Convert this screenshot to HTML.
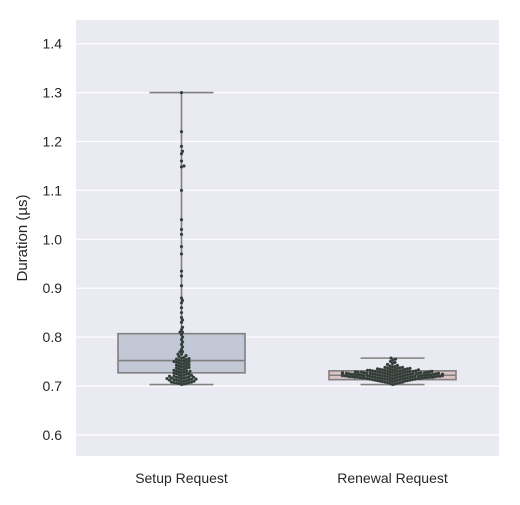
<!DOCTYPE html>
<html><head><meta charset="utf-8"><style>
body{margin:0;background:#fff;}
svg text{font-family:"Liberation Sans","DejaVu Sans",sans-serif;fill:#262626;}
</style></head><body>
<svg id="chart" width="520" height="500" xmlns="http://www.w3.org/2000/svg">
<rect x="76" y="20" width="423" height="436" fill="#eaeaf2"/>
<g id="grid"></g><g id="boxes"></g><g id="dots"></g><g id="axes"></g>
<text transform="translate(27,238) rotate(-90)" text-anchor="middle" font-size="15">Duration (µs)</text>
</svg>
<script>
const categories=["Setup Request","Renewal Request"];
const yTicks=[0.6,0.7,0.8,0.9,1.0,1.1,1.2,1.3,1.4];
const boxQ1=[0.727,0.713];
const boxMedian=[0.752,0.722];
const boxQ3=[0.807,0.731];
const whiskerLow=[0.703,0.703];
const whiskerHigh=[1.30,0.757];
const boxColors=["#c2c8d6","#dbc3c5"];
const setupValues=[1.30,1.22,1.19,1.18,1.175,1.16,1.15,1.148,1.10,1.04,1.02,1.01,0.985,0.97,0.935,0.925,0.905,0.88,0.875,0.87,0.86,0.85,0.84,0.835,0.83,0.82,0.815,0.81,0.81,0.805,0.80,0.795,0.79,0.785,0.78,0.775,0.77,0.77,0.765,
0.703,0.704,0.705,0.705,0.706,0.707,0.707,0.708,0.708,0.709,0.710,0.710,0.711,0.711,0.712,0.712,0.713,0.713,0.714,0.714,0.715,0.715,0.716,0.716,0.717,0.717,0.718,0.718,0.719,0.720,0.720,0.721,0.722,0.722,0.723,0.724,0.725,0.725,0.726,0.727,0.728,0.729,0.730,0.730,0.731,0.732,0.733,0.734,0.735,0.736,0.737,0.738,0.739,0.740,0.741,0.742,0.743,0.744,0.745,0.746,0.747,0.748,0.749,0.750,0.750,0.751,0.752,0.753,0.754,0.755,0.756,0.757,0.758,0.760,0.762,0.765];
const renewalValues=[0.757,0.755,0.753,0.750,0.748,0.746,0.744,0.742,0.741,0.740,0.739,0.738,0.738,0.737,0.737,0.736,0.736,0.735,0.735,0.735,0.734,0.734,0.734,0.733,0.733,0.733,0.732,0.732,0.732,0.732,0.731,0.731,0.731,0.731,0.730,0.730,0.730,0.730,0.730,0.729,0.729,0.729,0.729,0.729,0.728,0.728,0.728,0.728,0.728,0.728,0.727,0.727,0.727,0.727,0.727,0.727,0.726,0.726,0.726,0.726,0.726,0.726,0.726,0.725,0.725,0.725,0.725,0.725,0.725,0.725,0.724,0.724,0.724,0.724,0.724,0.724,0.724,0.724,0.723,0.723,0.723,0.723,0.723,0.723,0.723,0.723,0.722,0.722,0.722,0.722,0.722,0.722,0.722,0.722,0.722,0.721,0.721,0.721,0.721,0.721,0.721,0.721,0.721,0.720,0.720,0.720,0.720,0.720,0.720,0.720,0.720,0.719,0.719,0.719,0.719,0.719,0.719,0.719,0.718,0.718,0.718,0.718,0.718,0.718,0.718,0.717,0.717,0.717,0.717,0.717,0.717,0.716,0.716,0.716,0.716,0.716,0.716,0.715,0.715,0.715,0.715,0.715,0.714,0.714,0.714,0.714,0.713,0.713,0.713,0.713,0.712,0.712,0.712,0.711,0.711,0.711,0.710,0.710,0.710,0.709,0.709,0.708,0.708,0.707,0.707,0.706,0.705,0.704,0.703];
const seriesValues=[setupValues,renewalValues];

const NS="http://www.w3.org/2000/svg";
const yScale=v=>386-(v-0.7)*489;
const xCenter=i=>181.5+i*211;
const boxHalf=63.5;
function mk(tag,attrs,parent){const e=document.createElementNS(NS,tag);for(const k in attrs)e.setAttribute(k,attrs[k]);parent.appendChild(e);return e;}
const grid=document.getElementById('grid'),axes=document.getElementById('axes'),boxes=document.getElementById('boxes'),dots=document.getElementById('dots');
yTicks.forEach(t=>{
  const y=yScale(t);
  const l=mk('line',{x1:76,x2:499,y1:y,y2:y,stroke:'#fff','stroke-width':1.2},grid);
  
  
  const tx=mk('text',{x:62,y:y+5,'text-anchor':'end','font-size':14},axes);
  tx.textContent=t.toFixed(1);
  
  
});
categories.forEach((c,i)=>{
  const cx=xCenter(i);
  const tx=mk('text',{x:cx,y:483,'text-anchor':'middle','font-size':14},axes);
  tx.textContent=c;
  
  
  const g=mk('g',{},boxes);
  
  
  const st={stroke:'#808080','stroke-width':1.6};
  mk('line',Object.assign({x1:cx,x2:cx,y1:yScale(whiskerHigh[i]),y2:yScale(boxQ3[i])},st),g);
  mk('line',Object.assign({x1:cx,x2:cx,y1:yScale(boxQ1[i]),y2:yScale(whiskerLow[i])},st),g);
  mk('line',Object.assign({x1:cx-32,x2:cx+32,y1:yScale(whiskerHigh[i]),y2:yScale(whiskerHigh[i])},st),g);
  mk('line',Object.assign({x1:cx-32,x2:cx+32,y1:yScale(whiskerLow[i]),y2:yScale(whiskerLow[i])},st),g);
  mk('rect',Object.assign({x:cx-boxHalf,y:yScale(boxQ3[i]),width:boxHalf*2,height:yScale(boxQ1[i])-yScale(boxQ3[i]),fill:boxColors[i]},st),g);
  mk('line',Object.assign({x1:cx-boxHalf,x2:cx+boxHalf,y1:yScale(boxMedian[i]),y2:yScale(boxMedian[i])},st),g);
  const r=1.5,d=2.5,maxOff=50;
  const vals=seriesValues[i].slice().sort((a,b)=>a-b);
  const placed=[];
  vals.forEach(v=>{
    const y=yScale(v);
    let best=null;
    for(let k=0;k<=maxOff*2&&best===null;k++){
      for(const s of (k===0?[0]:[k*0.5,-k*0.5])){
        const x=cx+s;
        if(placed.every(p=>(p[0]-x)**2+(p[1]-y)**2>=d*d)){best=x;break;}
      }
    }
    if(best===null)best=cx+(placed.length%2?maxOff:-maxOff);
    placed.push([best,y]);
    const c=mk('circle',{cx:best,cy:y,r:r,fill:'#2e3b34',stroke:'#555','stroke-width':0.3},dots);
    
    
  });
});
</script>
</body></html>
